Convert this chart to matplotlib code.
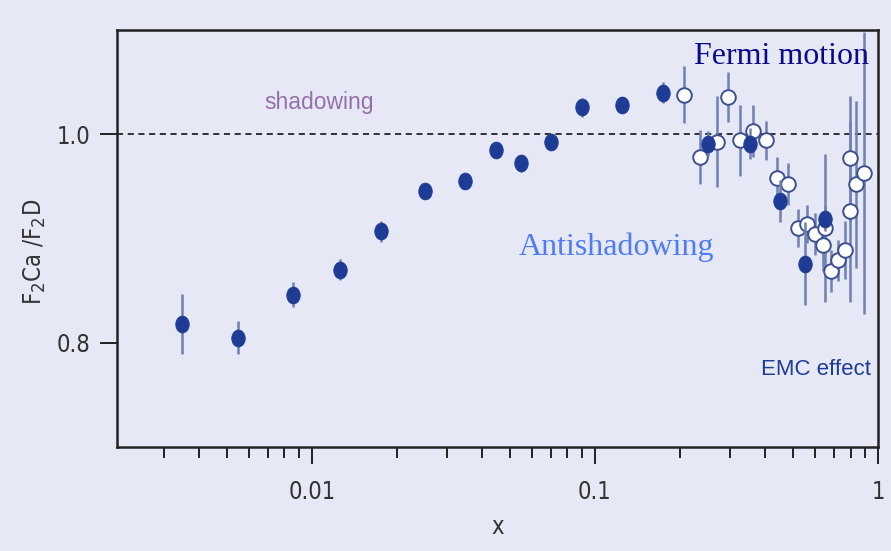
import matplotlib.pyplot as plt
import numpy as np
from matplotlib.path import Path
from matplotlib.ticker import LogLocator, FixedLocator, NullFormatter

# Ca/D structure function ratio, two data sets
x_filled = [0.00349, 0.0055, 0.00857, 0.0126, 0.0176, 0.0251, 0.0349, 0.0449,
            0.0547, 0.0698, 0.0899, 0.125, 0.174, 0.251, 0.352, 0.452, 0.551, 0.650]
y_filled = [0.818, 0.805, 0.846, 0.870, 0.907, 0.946, 0.955, 0.985,
            0.972, 0.993, 1.026, 1.028, 1.040, 0.991, 0.991, 0.936, 0.876, 0.919]
err_filled = [0.029, 0.016, 0.012, 0.010, 0.010, 0.006, 0.006, 0.008,
              0.008, 0.007, 0.009, 0.008, 0.010, 0.012, 0.015, 0.020, 0.040, 0.012]

x_open = [0.206, 0.236, 0.269, 0.296, 0.325, 0.361, 0.402, 0.441, 0.482, 0.521,
          0.563, 0.600, 0.650, 0.640, 0.681, 0.723, 0.764, 0.798, 0.798, 0.838, 0.889]
y_open = [1.038, 0.978, 0.993, 1.036, 0.994, 1.003, 0.994, 0.958, 0.952, 0.910,
          0.914, 0.904, 0.910, 0.894, 0.869, 0.879, 0.889, 0.926, 0.977, 0.952, 0.963]
err_open = [0.027, 0.026, 0.044, 0.024, 0.034, 0.025, 0.019, 0.020, 0.020, 0.018,
            0.018, 0.020, 0.071, 0.025, 0.020, 0.020, 0.028, 0.087, 0.060, 0.080, 0.135]

bg = '#e6e9f5'
navy = '#1e3c96'
bar_col = '#6f80b2'

# slightly tall ellipse for the filled markers
t = np.linspace(0, 2 * np.pi, 60)
ellipse = Path(np.column_stack([0.8 * np.cos(t), np.sin(t)]), closed=True)

fig = plt.figure(figsize=(8.91, 5.51), dpi=100, facecolor=bg)
ax = fig.add_axes([0.1313, 0.1887, 0.8541, 0.7569], facecolor=bg)

ax.axhline(1.0, color='black', lw=1.1, ls=(0, (4, 3)), zorder=1)

ax.errorbar(x_open, y_open, yerr=err_open, fmt='none', ecolor=bar_col,
            elinewidth=1.8, capsize=0, zorder=2)
ax.plot(x_open, y_open, 'o', ms=10.5, mfc='white', mec='#3d5090', mew=1.4,
        ls='none', zorder=3)

ax.errorbar(x_filled, y_filled, yerr=err_filled, fmt='none', ecolor=bar_col,
            elinewidth=1.8, capsize=0, zorder=4)
ax.plot(x_filled, y_filled, ls='none', marker=ellipse, ms=12.2, mfc=navy,
        mec=navy, mew=0.5, zorder=5)

ax.set_xscale('log')
ax.set_xlim(0.00205, 1)
ax.set_ylim(0.7, 1.1)

ax.xaxis.set_major_locator(FixedLocator([0.01, 0.1, 1]))
ax.xaxis.set_minor_locator(LogLocator(base=10, subs=np.arange(2, 10) / 1.0, numticks=12))
ax.xaxis.set_minor_formatter(NullFormatter())
ax.set_xticklabels(['0.01', '0.1', '1'])
ax.set_yticks([0.8, 1.0])
ax.set_yticklabels(['0.8', '1.0'])

lab_font = ['DejaVu Sans']
for lab in ax.get_xticklabels() + ax.get_yticklabels():
    lab.set_family(lab_font)
    lab.set_stretch('condensed')
    lab.set_fontsize(17)
    lab.set_color('#333333')

ax.tick_params(axis='x', which='major', length=12, width=1.2, pad=12)
ax.tick_params(axis='x', which='minor', length=8, width=1.2)
ax.tick_params(axis='y', which='major', length=12, width=1.2, pad=7)

for side in ['left', 'bottom', 'top', 'right']:
    ax.spines[side].set_linewidth(1.8)
    ax.spines[side].set_color('#222222')

ax.set_xlabel('x', family=lab_font, stretch='condensed', fontsize=17,
              color='#333333', labelpad=8)
ax.set_ylabel(r'F$_2$Ca /F$_2$D', family=lab_font, stretch='condensed',
              fontsize=17, color='#333333')
ax.yaxis.set_label_coords(-0.091, 0.468)

ax.text(0.0106, 1.030, 'shadowing', family='Liberation Sans', fontsize=16.5,
        color='#9670aa', ha='center', va='center')
ax.text(0.93, 1.075, 'Fermi motion', family='Liberation Serif', fontsize=23,
        color='#0a0a8c', ha='right', va='center')
ax.text(0.119, 0.892, 'Antishadowing', family='Liberation Serif', fontsize=23,
        color='#4f7cf2', ha='center', va='center')
ax.text(0.945, 0.774, 'EMC effect', family='Liberation Sans', fontsize=16,
        color=navy, ha='right', va='center')

fig.savefig('out.png', dpi=100, facecolor=bg)
